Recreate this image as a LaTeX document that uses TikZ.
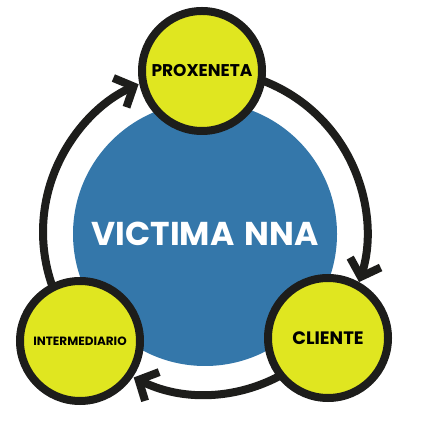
\documentclass[tikz,border=0pt]{standalone}
\usepackage{fontspec}
\setmainfont{Poppins}
\usetikzlibrary{arrows.meta}
\definecolor{ylw}{HTML}{E0E620}
\definecolor{blu}{HTML}{3477AA}
\definecolor{blk}{HTML}{1D1D1B}
\tikzset{
  ring/.style={draw=blk, line width=8pt, -{Straight Barb[length=15pt,width=32pt]}},
  actor/.style={circle, fill=ylw, draw=blk, line width=8pt, minimum size=120pt, inner sep=0pt, text=black, font=\bfseries},
  core/.style={circle, fill=blu, minimum size=264pt, inner sep=0pt, text=white, font=\bfseries\fontsize{33}{33}\selectfont}
}
\begin{document}
\begin{tikzpicture}[x=1pt,y=1pt]
\useasboundingbox (0,0) rectangle (420,422);
\coordinate (O) at (205,190);
\node[core] (V) at (205,188) {VICTIMA\hspace{3pt} NNA};
\draw[ring] ([shift={(221.1:162)}]O) arc[start angle=221.1, end angle=114.2, radius=162];
\draw[ring] ([shift={(91.4:162)}]O) arc[start angle=91.4, end angle=-18, radius=162];
\draw[ring] ([shift={(-40.8:162)}]O) arc[start angle=-40.8, end angle=-116.1, radius=162];
\node[actor, font=\bfseries\fontsize{17}{17}\selectfont] (P) at (202,351) {PROXENETA};
\node[actor, font=\bfseries\fontsize{12}{12}\selectfont] (I) at (80,81) {INTERMEDIARIO};
\node[actor, font=\bfseries\fontsize{18}{18}\selectfont] (C) at (328,84) {CLIENTE};
\end{tikzpicture}
\end{document}
